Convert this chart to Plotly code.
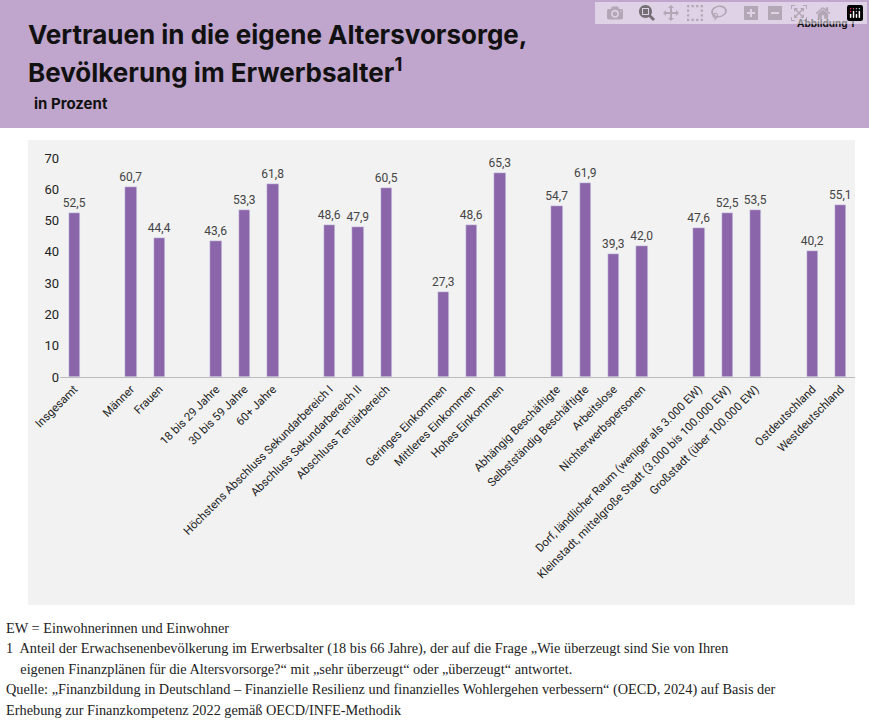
import plotly.graph_objects as go

# slot positions (gaps between groups are empty slots)
positions = [0, 2, 3, 5, 6, 7, 9, 10, 11, 13, 14, 15, 17, 18, 19, 20, 22, 23, 24, 26, 27]
labels = [
    "Insgesamt", "Männer", "Frauen", "18 bis 29 Jahre", "30 bis 59 Jahre", "60+ Jahre",
    "Höchstens Abschluss Sekundarbereich I", "Abschluss Sekundarbereich II", "Abschluss Tertiärbereich",
    "Geringes Einkommen", "Mittleres Einkommen", "Hohes Einkommen",
    "Abhängig Beschäftigte", "Selbstständig Beschäftigte", "Arbeitslose", "Nichterwerbspersonen",
    "Dorf, ländlicher Raum (weniger als 3.000 EW)", "Kleinstadt, mittelgroße Stadt (3.000 bis 100.000 EW)",
    "Großstadt (über 100.000 EW)", "Ostdeutschland", "Westdeutschland",
]
values = [52.5, 60.7, 44.4, 43.6, 53.3, 61.8, 48.6, 47.9, 60.5, 27.3, 48.6, 65.3,
          54.7, 61.9, 39.3, 42.0, 47.6, 52.5, 53.5, 40.2, 55.1]

fig = go.Figure(go.Bar(
    x=positions, y=values, width=0.4, marker_color="#8b65a9",
    text=[f"{v:.1f}".replace(".", ",") for v in values], textposition="outside",
    constraintext="none",
    textfont=dict(size=12, color="#444", family="Roboto"), cliponaxis=False,
))

def py(p):  # pixel from top -> paper y
    return (377 - p) / 219

def px(p):
    return (p - 60) / 795

shapes = [
    dict(type="rect", xref="paper", yref="paper", x0=px(-5), x1=px(875), y0=py(128), y1=py(-5),
         fillcolor="#c0a5cd", line_width=0, layer="below"),
    dict(type="rect", xref="paper", yref="paper", x0=px(28), x1=px(855), y0=py(605), y1=py(140),
         fillcolor="#f2f2f2", line_width=0, layer="below"),
]

ann = [
    dict(text="<b>Vertrauen in die eigene Altersvorsorge,</b>", x=px(26), y=py(34)),
    dict(text="<b>Bevölkerung im Erwerbsalter<sup>1</sup></b>", x=px(26), y=py(70)),
]
for a in ann:
    a.update(xref="paper", yref="paper", xanchor="left", yanchor="middle", showarrow=False,
             font=dict(size=26, color="#111", family="Inter"))
ann.append(dict(text="<b>in Prozent</b>", x=px(32), y=py(104), font=dict(size=15, color="#111", family="Inter")))
ann.append(dict(text="<b>Abbildung 1</b>", x=px(856), y=py(24), xanchor="right",
                font=dict(size=10, color="#111", family="Inter")))
footer = [
    "EW = Einwohnerinnen und Einwohner",
    "1  Anteil der Erwachsenenbevölkerung im Erwerbsalter (18 bis 66 Jahre), der auf die Frage „Wie überzeugt sind Sie von Ihren",
    "    eigenen Finanzplänen für die Altersvorsorge?“ mit „sehr überzeugt“ oder „überzeugt“ antwortet.",
    "Quelle: „Finanzbildung in Deutschland – Finanzielle Resilienz und finanzielles Wohlergehen verbessern“ (OECD, 2024) auf Basis der",
    "Erhebung zur Finanzkompetenz 2022 gemäß OECD/INFE-Methodik",
]
for i, t in enumerate(footer):
    ann.append(dict(text=t, x=px(4), y=py(628 + i * 20.5), font=dict(size=14.3, color="#222", family="Liberation Serif")))
for a in ann[2:]:
    a.update(xref="paper", yref="paper", yanchor="middle", showarrow=False)
    a.setdefault("xanchor", "left")

fig.update_layout(
    width=869, height=724, margin=dict(l=60, r=14, t=158, b=347),
    paper_bgcolor="white", plot_bgcolor="rgba(0,0,0,0)", showlegend=False,
    shapes=shapes, annotations=ann, bargap=0,
    font=dict(family="Roboto", color="#222"),
)
fig.update_xaxes(range=[-0.5, 27.5], tickvals=positions, ticktext=labels, tickangle=-45,
                 tickfont=dict(size=11.5, color="#222"), showgrid=False, zeroline=False,
                 showline=True, linecolor="#bbb", ticks="")
fig.update_yaxes(range=[0, 70], dtick=10, tickfont=dict(size=13, color="#222"),
                 showgrid=False, zeroline=False, ticks="")
fig.write_html("out.html", post_script="document.body.style.margin='0';document.body.style.overflow='hidden';")
